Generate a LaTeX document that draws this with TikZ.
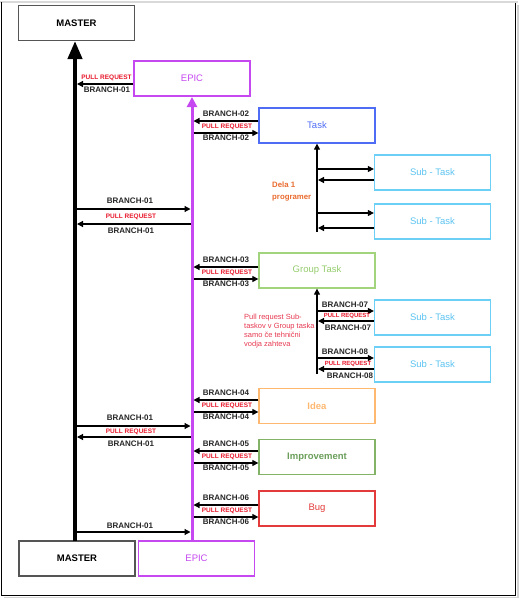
\documentclass[tikz,border=0pt]{standalone}
\usepackage{fontspec}
\setmainfont{Liberation Sans}
\usetikzlibrary{arrows.meta}

\definecolor{masterc}{HTML}{555555}
\definecolor{epicc}{HTML}{C548F0}
\definecolor{taskc}{HTML}{4F6CF5}
\definecolor{subc}{HTML}{6CCFF6}
\definecolor{subt}{HTML}{5BC3F0}
\definecolor{groupc}{HTML}{A2D47E}
\definecolor{groupt}{HTML}{94CC6C}
\definecolor{ideac}{HTML}{FFB870}
\definecolor{imprc}{HTML}{82B366}
\definecolor{imprt}{HTML}{6A9E5A}
\definecolor{bugc}{HTML}{E33B3B}
\definecolor{prc}{HTML}{E8192C}
\definecolor{delac}{HTML}{E96A2E}
\definecolor{notec}{HTML}{E63950}

\begin{document}
\begin{tikzpicture}[x=1pt, y=-1pt,
  box/.style={draw, line width=1.3pt, minimum width=116pt, minimum height=35pt,
    inner sep=0pt, font=\fontsize{9.5}{11}\selectfont},
  arr/.style={line width=1.2pt, -{Triangle[length=6pt, width=6pt]}},
  br/.style={inner sep=0pt, text=black!85, font=\fontsize{8}{9}\selectfont\bfseries},
  pr/.style={inner sep=0pt, text=prc, font=\fontsize{6.5}{7}\selectfont\bfseries}]

  \useasboundingbox (0,0) rectangle (520,598);
  % frame
  \draw[gray!30, line width=2pt] (0,2) -- (518,2);
  \draw[line width=1.2pt] (1.5,2) -- (1.5,595.5) -- (515.5,595.5) -- (515.5,3);
  \draw[gray!35, line width=2pt] (517.5,5) -- (517.5,597.5) -- (4,597.5);

  % boxes
  \node[box, draw=masterc] (master) at (76.5,23) {\bfseries MASTER};
  \node[box, draw=masterc] (masterb) at (77,558.5) {\bfseries MASTER};
  \node[box, draw=epicc, text=epicc] (epic) at (192,78.5) {EPIC};
  \node[box, draw=epicc, text=epicc] (epicb) at (196.5,558.5) {EPIC};
  \node[box, draw=taskc, text=taskc] (task) at (317,125.5) {Task};
  \node[box, draw=subc, text=subt] (sub1) at (432.5,172.5) {Sub - Task};
  \node[box, draw=subc, text=subt] (sub2) at (432.5,221.5) {Sub - Task};
  \node[box, draw=groupc, text=groupt] (group) at (317,270.5) {Group Task};
  \node[box, draw=subc, text=subt] (sub3) at (432.5,317.5) {Sub - Task};
  \node[box, draw=subc, text=subt] (sub4) at (432.5,364.5) {Sub - Task};
  \node[box, draw=ideac, text=ideac] (idea) at (317,406) {\bfseries Idea};
  \node[box, draw=imprc, text=imprt] (impr) at (317,457) {\bfseries Improvement};
  \node[box, draw=bugc, text=bugc] (bug) at (317,508.5) {Bug};

  % main lines
  \coordinate (mtop) at (75,41);
  \coordinate (mbot) at (75,541);
  \coordinate (etop) at (192,97);
  \coordinate (ebot) at (192,541);
  \draw[line width=4pt, -{Triangle[length=18pt, width=14pt]}] (mbot) -- (mtop);
  \draw[epicc, line width=3pt, -{Triangle[length=10pt, width=10pt]}] (ebot) -- (etop);

  \coordinate (tbot) at (317,232);
  \coordinate (gbot) at (317,374);
  \draw[arr] (tbot) -- (task.south);
  \draw[arr] (gbot) -- (group.south);

  % epic <-> boxes
  \foreach \b/\y/\n in {task/121/02, group/267/03, idea/400/04, impr/451/05, bug/505/06} {
    \coordinate (e\n) at (193.5,\y);
    \coordinate (f\n) at (193.5,\y+12);
    \draw[arr] (\b.west |- e\n) -- (e\n);
    \draw[arr] (f\n) -- (\b.west |- f\n);
    \node[br] (b\n) at (226,\y-7) {BRANCH-\n};
    \node[pr] (p\n) at (227,\y+6) {PULL REQUEST};
    \node[br] (c\n) at (226,\y+17) {BRANCH-\n};
  }

  % sub tasks
  \foreach \s/\y/\z in {sub1/169/180, sub2/213/228, sub3/311/321, sub4/358/369} {
    \coordinate (a\s) at (318,\y);
    \coordinate (z\s) at (318,\z);
    \draw[arr] (a\s) -- (\s.west |- a\s);
    \draw[arr] (\s.west |- z\s) -- (z\s);
  }
  \node[br] (b07) at (345,305) {BRANCH-07};
  \node[pr, font=\fontsize{6}{7}\selectfont\bfseries] (p07) at (347,316) {PULL REQUEST};
  \node[br] (c07) at (348,328) {BRANCH-07};
  \node[br] (b08) at (345,352) {BRANCH-08};
  \node[pr, font=\fontsize{6}{7}\selectfont\bfseries] (p08) at (348,364) {PULL REQUEST};
  \node[br] (c08) at (350,376) {BRANCH-08};

  % master <-> epic
  \coordinate (m1) at (77,84);
  \draw[arr] (epic.west |- m1) -- (m1);
  \node[pr] (p01) at (106.5,78) {PULL REQUEST};
  \node[br] (b01) at (107,90) {BRANCH-01};
  \foreach \y/\z/\k in {209/224/a, 426/437/b} {
    \coordinate (m\k) at (77,\y);
    \coordinate (n\k) at (190.5,\y);
    \coordinate (o\k) at (190.5,\z);
    \coordinate (q\k) at (77,\z);
    \draw[arr] (m\k) -- (n\k);
    \draw[arr] (o\k) -- (q\k);
    \node[br] (b\k) at (130,\y-8) {BRANCH-01};
    \node[pr] (p\k) at (131,\y/2+\z/2) {PULL REQUEST};
    \node[br] (c\k) at (131,\z+6.5) {BRANCH-01};
  }
  \coordinate (mc) at (77,532);
  \coordinate (nc) at (190.5,532);
  \draw[arr] (mc) -- (nc);
  \node[br] (bc) at (130,526) {BRANCH-01};

  % notes
  \node[align=left, anchor=west, inner sep=0pt, text=delac,
    font=\fontsize{7.8}{12}\selectfont\bfseries] (dela) at (272,191) {Dela 1\\programer};
  \node[align=left, anchor=west, inner sep=0pt, text=notec,
    font=\fontsize{7.5}{9}\selectfont] (note) at (244,331.5)
    {Pull request Sub-\\taskov v Group taska\\samo če tehnični\\vodja zahteva};
\end{tikzpicture}
\end{document}
